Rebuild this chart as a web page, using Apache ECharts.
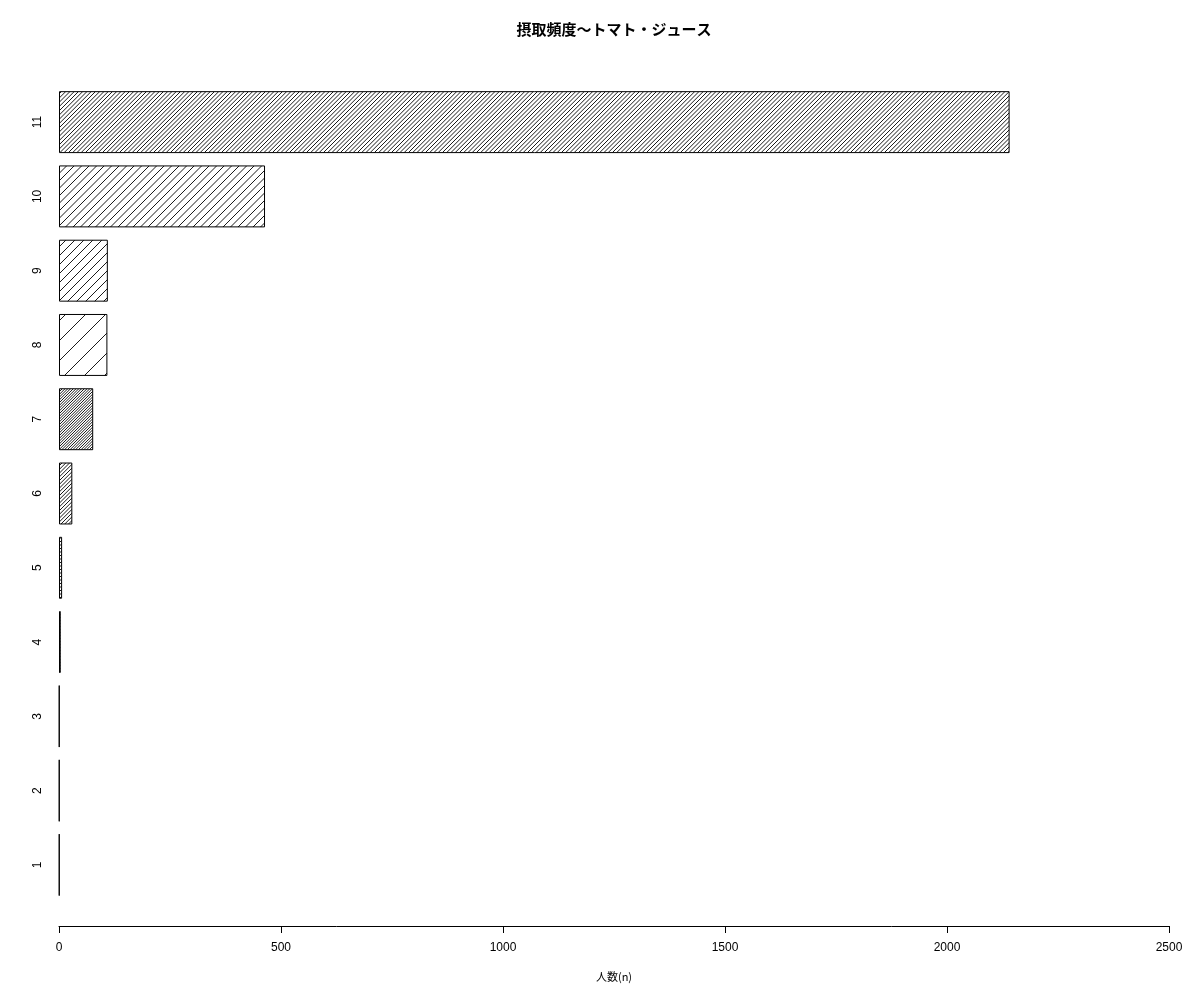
<!DOCTYPE html>
<html>
<head>
<meta charset="utf-8">
<script src="https://cdn.jsdelivr.net/npm/echarts@6/dist/echarts.min.js"></script>
<style>
html,body{margin:0;padding:0;background:#fff;}
#chart{width:1200px;height:1000px;}
</style>
</head>
<body>
<div id="chart"></div>
<script>
const chartTitle = '摂取頻度〜トマト・ジュース';
const xAxisName = '人数(n)';
const categories = ['1','2','3','4','5','6','7','8','9','10','11'];
const values = [1, 1, 1, 4, 7, 30, 77, 109, 110, 464, 2141];
const xTicks = [0, 500, 1000, 1500, 2000, 2500];

// style: horizontal period (px) of the 45° hatch lines for each bar
const hatchSpacing = [3, 3, 3, 3, 3.5, 3.75, 2.75, 20, 9, 7.5, 4.25];

function makeHatch(s) {
  const m = 4;
  const T = Math.max(2, Math.round(s * m));
  const sp = T / m;
  const c = document.createElement('canvas');
  c.width = T; c.height = T;
  const ctx = c.getContext('2d');
  ctx.fillStyle = '#ffffff';
  ctx.fillRect(0, 0, T, T);
  ctx.strokeStyle = '#000000';
  ctx.lineWidth = 0.9;
  ctx.beginPath();
  for (let k = -1; k <= 2 * m + 1; k++) {
    const cc = k * sp;
    ctx.moveTo(-2, cc + 2);
    ctx.lineTo(T + 2, cc - T - 2);
  }
  ctx.stroke();
  return c;
}

const seriesData = values.map((v, i) => ({
  value: v,
  itemStyle: {
    color: { image: makeHatch(hatchSpacing[i]), repeat: 'repeat' },
    borderColor: '#000',
    borderWidth: 1
  }
}));

const fontFam = '"Liberation Sans", "Noto Sans CJK JP", sans-serif';
const chart = echarts.init(document.getElementById('chart'), null, { renderer: 'canvas' });
chart.setOption({
  animation: false,
  backgroundColor: '#ffffff',
  title: {
    text: chartTitle,
    left: 609,
    top: 17,
    textAlign: 'center',
    textStyle: { fontFamily: '"Noto Sans CJK JP", sans-serif', fontWeight: 'bold', fontSize: 15, color: '#000' }
  },
  grid: { left: 59, right: 31, top: 85, height: 817, containLabel: false },
  xAxis: {
    type: 'value',
    min: xTicks[0],
    max: xTicks[xTicks.length - 1],
    interval: xTicks[1] - xTicks[0],
    offset: 24,
    name: xAxisName,
    nameLocation: 'middle',
    nameGap: 45,
    nameTextStyle: { fontFamily: '"Noto Sans CJK JP", sans-serif', fontSize: 11, color: '#000' },
    axisLine: { show: true, lineStyle: { color: '#000', width: 1 } },
    axisTick: { show: true, length: 7, lineStyle: { color: '#000' } },
    axisLabel: { fontFamily: fontFam, fontSize: 12, color: '#000', margin: 16, formatter: (v) => String(v) },
    splitLine: { show: false }
  },
  yAxis: {
    type: 'category',
    data: categories,
    axisLine: { show: false },
    axisTick: { show: false },
    axisLabel: { rotate: 90, fontFamily: fontFam, fontSize: 12, color: '#000', margin: 15 }
  },
  series: [{
    type: 'bar',
    data: seriesData,
    barCategoryGap: '16.6%',
    barMinHeight: 0
  }]
});
</script>
</body>
</html>
